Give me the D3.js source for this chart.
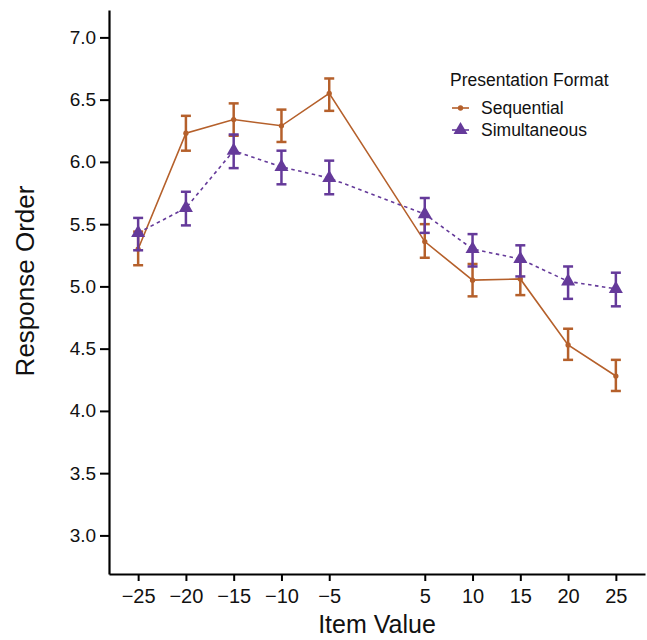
<body style="margin:0">
<script src="https://d3js.org/d3.v7.min.js"></script>
<style>
  * { font-family: "Liberation Sans", Arial, sans-serif; }
</style>
<script>
// values
var itemValues = [-25, -20, -15, -10, -5, 5, 10, 15, 20, 25];
var seqMean  = [5.30, 6.23, 6.34, 6.29, 6.55, 5.36, 5.05, 5.06, 4.53, 4.28];
var seqLow   = [5.17, 6.09, 6.21, 6.16, 6.41, 5.23, 4.92, 4.93, 4.41, 4.16];
var seqHigh  = [5.44, 6.37, 6.47, 6.42, 6.67, 5.50, 5.18, 5.20, 4.66, 4.41];
var simMean  = [5.43, 5.63, 6.09, 5.96, 5.87, 5.58, 5.30, 5.22, 5.04, 4.98];
var simLow   = [5.29, 5.49, 5.95, 5.82, 5.74, 5.43, 5.16, 5.08, 4.90, 4.84];
var simHigh  = [5.55, 5.76, 6.22, 6.09, 6.01, 5.71, 5.42, 5.33, 5.16, 5.11];
var yTicks = [3.0, 3.5, 4.0, 4.5, 5.0, 5.5, 6.0, 6.5, 7.0];

var W = 647, H = 640;
var margin = {top: 10, right: 2, bottom: 66, left: 109},
    width = W - margin.left - margin.right,
    height = H - margin.top - margin.bottom;

var orange = "#b5602b", purple = "#653a9a";

var svg = d3.select("body").append("svg")
    .attr("width", W)
    .attr("height", H);
var g = svg.append("g")
    .attr("transform", "translate(" + margin.left + "," + margin.top + ")");

var x = d3.scaleLinear().domain([-28.05, 28.05]).range([0, width]);
var y = d3.scaleLinear().domain([2.69, 7.22]).range([height, 0]);

// axes
var xAxis = g.append("g")
    .attr("transform", "translate(0," + height + ")")
    .call(d3.axisBottom(x).tickValues(itemValues).tickSize(7).tickSizeOuter(0)
      .tickFormat(d => d < 0 ? "\u2212" + Math.abs(d) : d));
var yAxis = g.append("g")
    .call(d3.axisLeft(y).tickValues(yTicks).tickSize(9).tickSizeOuter(0)
      .tickFormat(d3.format(".1f")));
[xAxis, yAxis].forEach(a => {
  a.select(".domain").attr("stroke", "#000").attr("stroke-width", 2.2);
  a.selectAll(".tick line").attr("stroke", "#000").attr("stroke-width", 2);
  a.selectAll(".tick text").attr("fill", "#111");
});
xAxis.selectAll(".tick text").style("font-size", "20px").attr("dy", "0.95em");
yAxis.selectAll(".tick text").style("font-size", "19px").attr("dx", "-0.05em");

// axis titles
svg.append("text")
    .attr("x", 377)
    .attr("y", 633)
    .attr("text-anchor", "middle")
    .attr("fill", "#111")
    .style("font-size", "25px")
    .text("Item Value");
svg.append("text")
    .attr("transform", "translate(34,281) rotate(-90)")
    .attr("text-anchor", "middle")
    .attr("fill", "#111")
    .style("font-size", "26px")
    .text("Response Order");

function series(mean, low, high, color, dash, marker) {
  var pts = itemValues.map((v, i) => ({v: v, m: mean[i], lo: low[i], hi: high[i]}));
  var line = d3.line().x(d => x(d.v)).y(d => y(d.m));
  g.append("path")
      .datum(pts)
      .attr("fill", "none")
      .attr("stroke", color)
      .attr("stroke-width", 1.6)
      .attr("stroke-dasharray", dash)
      .attr("d", line);
  var eb = g.append("g").selectAll("g").data(pts).enter().append("g")
      .attr("stroke", color).attr("stroke-width", 2.5);
  eb.append("line").attr("x1", d => x(d.v)).attr("x2", d => x(d.v))
      .attr("y1", d => y(d.lo)).attr("y2", d => y(d.hi));
  eb.append("line").attr("x1", d => x(d.v) - 5).attr("x2", d => x(d.v) + 5)
      .attr("y1", d => y(d.lo)).attr("y2", d => y(d.lo));
  eb.append("line").attr("x1", d => x(d.v) - 5).attr("x2", d => x(d.v) + 5)
      .attr("y1", d => y(d.hi)).attr("y2", d => y(d.hi));
  g.append("g").selectAll("path").data(pts).enter().append("path")
      .attr("transform", d => "translate(" + x(d.v) + "," + y(d.m) + ")")
      .attr("fill", color)
      .attr("d", marker);
}

var dot = d3.symbol().type(d3.symbolCircle).size(22)();
var tri = d3.symbol().type(d3.symbolTriangle).size(85)();

series(seqMean, seqLow, seqHigh, orange, null, dot);
series(simMean, simLow, simHigh, purple, "3.5,3.5", tri);

// legend
var leg = svg.append("g").attr("transform", "translate(450,0)");
leg.append("text").attr("x", 0).attr("y", 86)
    .style("font-size", "17.5px").attr("fill", "#111")
    .text("Presentation Format");
var items = [
  {label: "Sequential", color: orange, marker: dot, y: 108},
  {label: "Simultaneous", color: purple, marker: tri, y: 130}
];
items.forEach(it => {
  leg.append("line").attr("x1", 2).attr("x2", 19).attr("y1", it.y).attr("y2", it.y)
      .attr("stroke", it.color).attr("stroke-width", 1.6);
  leg.append("path").attr("transform", "translate(10.5," + it.y + ")")
      .attr("fill", it.color).attr("d", it.marker);
  leg.append("text").attr("x", 31).attr("y", it.y + 6)
      .style("font-size", "17.5px").attr("fill", "#111")
      .text(it.label);
});
</script>
</body>
